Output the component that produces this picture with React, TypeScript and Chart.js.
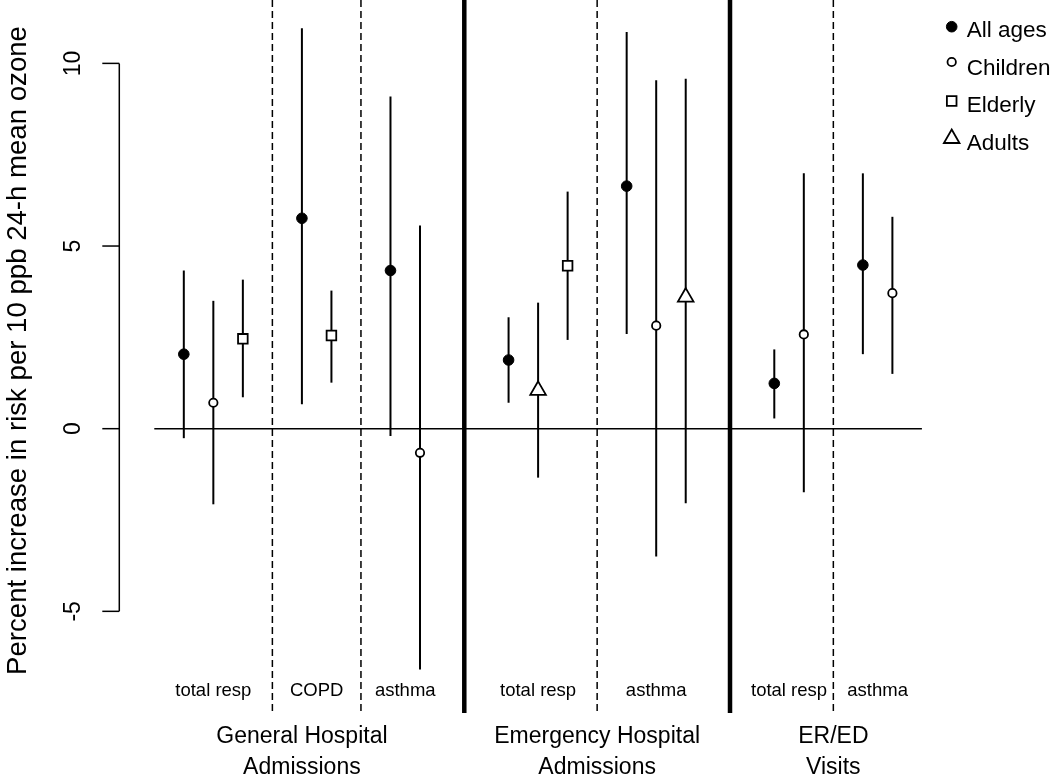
import React, { useEffect, useRef } from "react";
import { Chart, registerables } from "chart.js";
import { drawPoint } from "chart.js/helpers";

Chart.register(...registerables);

// ---------- data ----------
const seriesNames = ["All ages", "Children", "Elderly", "Adults"];

const allAgesSlot = [1, 5, 8, 12, 16, 21, 24];
const allAgesEst = [2.04, 5.76, 4.33, 1.88, 6.64, 1.24, 4.48];
const allAgesLow = [-0.26, 0.67, -0.2, 0.71, 2.59, 0.28, 2.04];
const allAgesHigh = [4.33, 10.96, 9.09, 3.05, 10.86, 2.17, 6.99];

const childrenSlot = [2, 9, 17, 22, 25];
const childrenEst = [0.71, -0.66, 2.82, 2.58, 3.71];
const childrenLow = [-2.07, -6.59, -3.5, -1.74, 1.5];
const childrenHigh = [3.5, 5.56, 9.54, 6.99, 5.8];

const elderlySlot = [3, 6, 14];
const elderlyEst = [2.46, 2.55, 4.46];
const elderlyLow = [0.86, 1.26, 2.43];
const elderlyHigh = [4.08, 3.78, 6.49];

const adultsSlot = [13, 18];
const adultsEst = [1.05, 3.6];
const adultsLow = [-1.34, -2.04];
const adultsHigh = [3.45, 9.58];

const outcomeLabels = ["total resp", "COPD", "asthma", "total resp", "asthma", "total resp", "asthma"];
const outcomeSlot = [2, 5.5, 8.5, 13, 17, 21.5, 24.5];

const groupLine1 = ["General Hospital", "Emergency Hospital", "ER/ED"];
const groupLine2 = ["Admissions", "Admissions", "Visits"];
const groupSlot = [5, 15, 23];

const dashedDividers = [4, 7, 15, 23];
const solidDividers = [10.5, 19.5];
const zeroLineRange = [0, 26];

const yTicks = [-5, 0, 5, 10];
const yTitle = "Percent increase in risk per 10 ppb 24-h mean ozone";

// ---------- styles ----------
const FONT = '"Liberation Sans", Arial, Helvetica, sans-serif';
const pointStyles = [
  { pointStyle: "circle", radius: 5.3, bg: "#000000", bw: 1 },
  { pointStyle: "circle", radius: 4.2, bg: "#ffffff", bw: 1.8 },
  { pointStyle: "rect", radius: 6.8, bg: "#ffffff", bw: 1.8 },
  { pointStyle: "triangle", radius: 9, bg: "#ffffff", bw: 1.8 },
];
const legendSymbolY = [26.7, 62, 101, 138.5];
const legendTextY = [37, 74.5, 112, 149.5];

function buildPoints(slot: number[], est: number[], lo: number[], hi: number[]) {
  return slot.map((s, i) => ({ x: s, y: est[i], lo: lo[i], hi: hi[i] }));
}

const seriesData = [
  buildPoints(allAgesSlot, allAgesEst, allAgesLow, allAgesHigh),
  buildPoints(childrenSlot, childrenEst, childrenLow, childrenHigh),
  buildPoints(elderlySlot, elderlyEst, elderlyLow, elderlyHigh),
  buildPoints(adultsSlot, adultsEst, adultsLow, adultsHigh),
];

const decorPlugin = {
  id: "decor",
  beforeDatasetsDraw(chart: any) {
    const ctx = chart.ctx;
    const xs = chart.scales.x;
    const ys = chart.scales.y;
    const area = chart.chartArea;
    ctx.save();
    ctx.strokeStyle = "#000";
    ctx.lineCap = "butt";

    // zero line
    ctx.lineWidth = 1.5;
    ctx.beginPath();
    ctx.moveTo(xs.getPixelForValue(zeroLineRange[0]), ys.getPixelForValue(0));
    ctx.lineTo(xs.getPixelForValue(zeroLineRange[1]), ys.getPixelForValue(0));
    ctx.stroke();

    // dashed dividers
    ctx.setLineDash([7, 4]);
    ctx.lineWidth = 1.5;
    dashedDividers.forEach((d) => {
      const px = xs.getPixelForValue(d);
      ctx.beginPath();
      ctx.moveTo(px, area.top);
      ctx.lineTo(px, area.bottom);
      ctx.stroke();
    });
    ctx.setLineDash([]);

    // solid thick dividers
    ctx.lineWidth = 4.5;
    solidDividers.forEach((d) => {
      const px = xs.getPixelForValue(d);
      ctx.beginPath();
      ctx.moveTo(px, area.top);
      ctx.lineTo(px, area.bottom);
      ctx.stroke();
    });

    // error bars
    ctx.lineWidth = 2;
    chart.data.datasets.forEach((ds: any) => {
      ds.data.forEach((p: any) => {
        const px = xs.getPixelForValue(p.x);
        ctx.beginPath();
        ctx.moveTo(px, ys.getPixelForValue(p.lo));
        ctx.lineTo(px, ys.getPixelForValue(p.hi));
        ctx.stroke();
      });
    });
    ctx.restore();
  },
  afterDraw(chart: any) {
    const ctx = chart.ctx;
    const xs = chart.scales.x;
    const ys = chart.scales.y;
    const area = chart.chartArea;
    ctx.save();
    ctx.strokeStyle = "#000";
    ctx.fillStyle = "#000";

    // y axis (R style)
    const ax = area.left;
    ctx.lineWidth = 1.5;
    ctx.beginPath();
    ctx.moveTo(ax, ys.getPixelForValue(yTicks[0]));
    ctx.lineTo(ax, ys.getPixelForValue(yTicks[yTicks.length - 1]));
    ctx.stroke();
    ctx.font = `23px ${FONT}`;
    ctx.textAlign = "center";
    ctx.textBaseline = "alphabetic";
    yTicks.forEach((t) => {
      const py = ys.getPixelForValue(t);
      ctx.beginPath();
      ctx.moveTo(ax - 17, py);
      ctx.lineTo(ax, py);
      ctx.stroke();
      ctx.save();
      ctx.translate(ax - 39, py);
      ctx.rotate(-Math.PI / 2);
      ctx.fillText(String(t), 0, 0);
      ctx.restore();
    });

    // y title
    ctx.save();
    ctx.font = `27.6px ${FONT}`;
    ctx.translate(26, 350.5);
    ctx.rotate(-Math.PI / 2);
    ctx.fillText(yTitle, 0, 0);
    ctx.restore();

    // outcome labels
    ctx.font = `18.5px ${FONT}`;
    outcomeLabels.forEach((lab, i) => {
      ctx.fillText(lab, xs.getPixelForValue(outcomeSlot[i]), 696);
    });

    // group labels
    ctx.font = `23px ${FONT}`;
    groupSlot.forEach((g, i) => {
      const px = xs.getPixelForValue(g);
      ctx.fillText(groupLine1[i], px, 743.3);
      ctx.fillText(groupLine2[i], px, 774);
    });

    // legend
    ctx.textAlign = "left";
    ctx.font = `22.5px ${FONT}`;
    seriesNames.forEach((name, i) => {
      const st = pointStyles[i];
      ctx.fillStyle = st.bg;
      ctx.strokeStyle = "#000";
      ctx.lineWidth = st.bw;
      drawPoint(ctx, { pointStyle: st.pointStyle, radius: st.radius, borderWidth: st.bw, rotation: 0 } as any, 951.7, legendSymbolY[i]);
      ctx.fillStyle = "#000";
      ctx.fillText(name, 966.7, legendTextY[i]);
    });
    ctx.restore();
  },
};

export default function App() {
  const ref = useRef<HTMLCanvasElement | null>(null);
  useEffect(() => {
    document.body.style.margin = "0";
    const canvas = ref.current;
    if (!canvas) return;
    const chart = new Chart(canvas, {
      type: "scatter",
      data: {
        datasets: seriesNames.map((name, i) => ({
          label: name,
          data: seriesData[i] as any,
          pointStyle: pointStyles[i].pointStyle as any,
          pointRadius: pointStyles[i].radius,
          pointHoverRadius: pointStyles[i].radius,
          pointBackgroundColor: pointStyles[i].bg,
          pointBorderColor: "#000000",
          pointBorderWidth: pointStyles[i].bw,
          showLine: false,
        })),
      },
      options: {
        animation: false,
        responsive: false,
        devicePixelRatio: 1,
        events: [],
        layout: {
          autoPadding: false,
          padding: { left: 119.3, right: 93.1, top: 0, bottom: 63 },
        },
        scales: {
          x: { type: "linear", min: -1.185, max: 27.185, display: false },
          y: { type: "linear", min: -7.783, max: 11.735, display: false },
        },
        plugins: {
          legend: { display: false },
          tooltip: { enabled: false },
        },
      },
      plugins: [decorPlugin],
    });
    return () => chart.destroy();
  }, []);
  return (
    <div style={{ position: "absolute", left: 0, top: 0, width: 1050, height: 776, background: "#fff" }}>
      <canvas ref={ref} width={1050} height={776} style={{ display: "block", width: 1050, height: 776 }} />
    </div>
  );
}
